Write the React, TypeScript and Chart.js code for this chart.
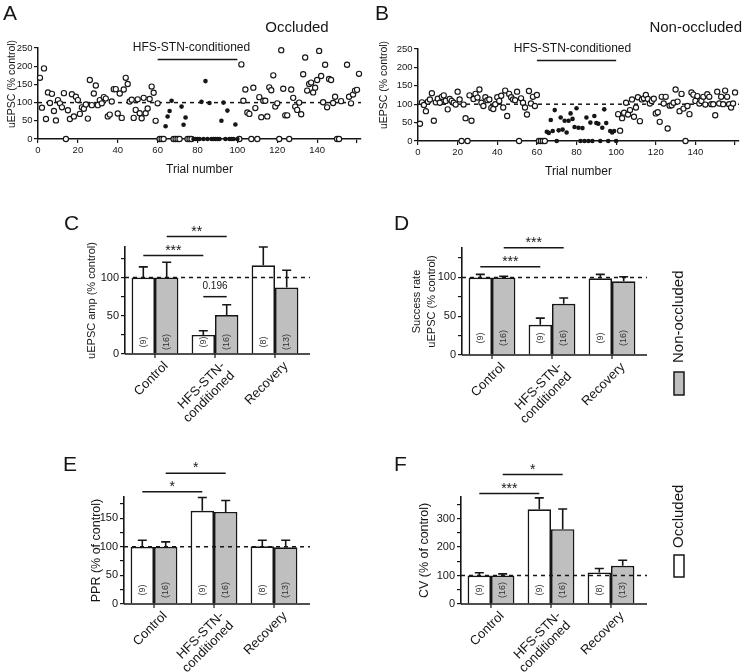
import React, { useEffect, useRef } from 'react';
import { Chart, registerables } from 'chart.js';

Chart.register(...registerables);

const FONT = "'Liberation Sans', Arial, Helvetica, sans-serif";
const INK = '#161616';
const GRAY = '#bfbfbf';

// ---------------- Panel A (Occluded) : [trial, uEPSC % control] ----------------
const occludedOpen: [number, number][] = [
  [1, 168], [2, 86], [3, 194], [4, 55], [5, 128], [6, 99], [7, 124], [8, 77], [9, 51], [10, 107],
  [11, 98], [12, 87], [13, 126], [14, 0], [15, 79], [16, 55], [17, 123], [18, 62], [19, 116], [20, 107],
  [21, 69], [22, 87], [23, 83], [24, 95], [25, 56], [26, 162], [27, 93], [28, 125], [29, 147], [30, 93],
  [31, 107], [32, 98], [33, 115], [34, 111], [35, 62], [36, 67], [37, 103], [38, 137], [39, 137], [40, 70],
  [41, 125], [42, 58], [43, 136], [44, 168], [45, 151], [46, 103], [47, 108], [48, 58], [49, 80], [50, 109],
  [51, 71], [52, 57], [53, 113], [54, 71], [55, 84], [56, 110], [57, 144], [58, 127], [59, 50], [60, 98],
  [61, 0], [62, 0], [63, 0], [68, 0], [69, 0], [70, 0], [71, 0], [75, 0], [76, 0], [77, 0],
  [101, 0], [102, 205], [103, 105], [104, 136], [105, 73], [106, 69], [107, 0], [108, 141], [109, 85], [110, 0],
  [111, 115], [112, 60], [113, 105], [114, 105], [115, 62], [116, 142], [117, 134], [118, 175], [119, 89], [120, 98],
  [121, 0], [122, 244], [123, 138], [124, 65], [125, 65], [126, 0], [127, 136], [128, 113], [129, 89], [130, 80],
  [131, 100], [132, 68], [133, 178], [134, 224], [135, 133], [136, 151], [137, 155], [138, 128], [139, 141], [140, 162],
  [141, 242], [142, 173], [143, 101], [144, 204], [145, 87], [146, 165], [147, 162], [148, 99], [149, 116], [150, 0],
  [151, 0], [152, 104], [154, 266], [155, 204], [156, 116], [157, 98], [158, 122], [159, 133], [160, 135], [161, 179],
];
const occludedFilled: [number, number][] = [
  [64, 35], [65, 62], [66, 77], [67, 105], [72, 89], [73, 39], [74, 59], [82, 102], [84, 159], [86, 99],
  [92, 50], [93, 100], [95, 78], [99, 40],
  [78, 0], [79, 0], [80, 0], [81, 0], [83, 0], [85, 0], [87, 0], [88, 0], [89, 0], [90, 0],
  [91, 0], [94, 0], [96, 0], [97, 0], [98, 0], [100, 0],
];

// ---------------- Panel B (Non-occluded) ----------------
const nonOccludedOpen: [number, number][] = [
  [1, 47], [2, 105], [3, 98], [4, 81], [5, 107], [6, 113], [7, 130], [8, 55], [9, 105], [10, 115],
  [11, 104], [12, 120], [13, 124], [14, 109], [15, 86], [16, 114], [17, 109], [18, 104], [19, 99], [20, 134],
  [21, 113], [22, 0], [23, 99], [24, 62], [25, 0], [26, 124], [27, 55], [28, 114], [29, 128], [30, 118],
  [31, 140], [32, 104], [33, 95], [34, 119], [35, 111], [36, 113], [37, 90], [38, 87], [39, 100], [40, 119],
  [41, 109], [42, 123], [43, 91], [44, 137], [45, 68], [46, 128], [47, 119], [48, 113], [49, 111], [50, 134],
  [51, 0], [52, 116], [53, 104], [54, 91], [55, 72], [56, 136], [57, 102], [58, 120], [59, 95], [60, 125],
  [61, 0], [62, 0], [63, 0], [64, 0],
  [101, 73], [102, 28], [103, 62], [104, 77], [105, 104], [106, 72], [107, 84], [108, 113], [109, 66], [110, 91],
  [111, 119], [112, 54], [113, 113], [114, 116], [115, 125], [116, 114], [117, 102], [118, 109], [119, 115], [120, 75],
  [121, 78], [122, 52], [123, 120], [124, 102], [125, 120], [126, 34], [127, 96], [128, 97], [129, 104], [130, 140],
  [131, 107], [132, 81], [133, 128], [134, 88], [135, 0], [136, 95], [137, 73], [138, 132], [139, 126], [140, 109],
  [141, 122], [142, 102], [143, 109], [144, 120], [145, 99], [146, 127], [147, 120], [148, 100], [149, 100], [150, 70],
  [151, 134], [152, 102], [153, 120], [154, 100], [155, 137], [156, 120], [157, 100], [158, 91], [159, 102], [160, 132],
];
const nonOccludedFilled: [number, number][] = [
  [65, 25], [66, 22], [67, 57], [68, 27], [69, 84], [71, 29], [72, 64], [73, 31], [74, 55], [75, 23],
  [76, 55], [77, 75], [78, 60], [79, 38], [80, 89], [81, 36], [83, 35], [85, 64], [87, 50], [89, 68],
  [90, 49], [91, 47], [93, 36], [94, 86], [95, 49], [97, 27], [98, 23], [99, 27],
  [70, 0], [82, 0], [84, 0], [86, 0], [88, 0], [92, 0], [96, 0], [100, 0],
];

const trialMax = 162;
const hfsStart = 60;
const hfsEnd = 100;

// ---------------- Bar panels C–F ----------------
const groupLabels = [['Control'], ['HFS-STN-', 'conditioned'], ['Recovery']];

// C: uEPSC amplitude
const ampOcc = [100, 25, 116];
const ampOccSem = [14, 5.5, 24];
const ampNon = [100, 51, 87];
const ampNonSem = [20, 13.5, 22.5];
const ampNOcc = ['(9)', '(9)', '(8)'];
const ampNNon = ['(16)', '(16)', '(13)'];

// D: success rate
const succOcc = [100, 39, 99];
const succOccSem = [4, 8.5, 5];
const succNon = [100, 66, 95];
const succNonSem = [1.5, 7.5, 6];
const succNOcc = ['(9)', '(9)', '(9)'];
const succNNon = ['(16)', '(16)', '(16)'];

// E: PPR
const pprOcc = [100, 163, 101];
const pprOccSem = [11.5, 23, 10.5];
const pprNon = [100, 161, 99];
const pprNonSem = [8.5, 20, 12.5];
const pprNOcc = ['(9)', '(9)', '(8)'];
const pprNNon = ['(16)', '(16)', '(13)'];

// F: CV
const cvOcc = [100, 333, 111];
const cvOccSem = [9.6, 40, 14];
const cvNon = [100, 263, 134];
const cvNonSem = [6, 71, 20];
const cvNOcc = ['(9)', '(9)', '(8)'];
const cvNNon = ['(16)', '(16)', '(13)'];

type Rect = { x: number; y: number; w: number; h: number };
type Area = { left: number; right: number; top: number; bottom: number };

type Bracket = { from: [number, number]; to: [number, number]; at: number; text: string; size: number; gap: number };

type ScatterPanel = {
  rect: Rect; area: Area; xAxisH: number;
  open: [number, number][]; filled: [number, number][];
  title: string; titleX: number; titleAlign: CanvasTextAlign;
  yTitleX: number; yTitleY: number; hfsTextDx: number;
};

type BarPanel = {
  rect: Rect; area: Area; yPadLeft: number; axisEnd: number;
  yMax: number; step: number; labelStep: number;
  yTitle: string | string[]; yTitleSize: number; yTitleLH: number;
  occ: number[]; occSem: number[]; non: number[]; nonSem: number[];
  nOcc: string[]; nNon: string[]; nOffset: number;
  brackets: Bracket[];
  legend?: { text: string; fill: string; box: [number, number, number, number]; textBottom: number; textX: number };
};

function buildScatter(canvas: HTMLCanvasElement, p: ScatterPanel) {
  const { rect, area } = p;
  const deco = {
    id: 'scatterDeco',
    beforeDatasetsDraw(chart: any) {
      const { ctx, chartArea, scales } = chart;
      const y100 = scales.y.getPixelForValue(100);
      ctx.save();
      ctx.setLineDash([4, 4]);
      ctx.lineWidth = 1.5;
      ctx.strokeStyle = INK;
      ctx.beginPath();
      ctx.moveTo(chartArea.left, y100);
      ctx.lineTo(chartArea.right, y100);
      ctx.stroke();
      ctx.restore();
    },
    afterDraw(chart: any) {
      const { ctx, chartArea, scales } = chart;
      const x1 = scales.x.getPixelForValue(hfsStart);
      const x2 = scales.x.getPixelForValue(hfsEnd);
      ctx.save();
      ctx.strokeStyle = INK;
      ctx.lineWidth = 1.5;
      ctx.beginPath();
      ctx.moveTo(x1, chartArea.top + 11.5);
      ctx.lineTo(x2, chartArea.top + 11.5);
      ctx.stroke();
      ctx.fillStyle = INK;
      ctx.font = `12px ${FONT}`;
      ctx.textAlign = 'center';
      ctx.textBaseline = 'middle';
      ctx.fillText('HFS-STN-conditioned', (x1 + x2) / 2 + p.hfsTextDx, chartArea.top - 0.5);
      ctx.font = `15px ${FONT}`;
      ctx.textAlign = p.titleAlign;
      ctx.fillText(p.title, p.titleX - rect.x, 28 - rect.y);
      // y axis title
      ctx.save();
      ctx.translate(p.yTitleX - rect.x, p.yTitleY - rect.y);
      ctx.rotate(-Math.PI / 2);
      ctx.font = `10.5px ${FONT}`;
      ctx.textAlign = 'center';
      ctx.textBaseline = 'middle';
      ctx.fillText('uEPSC (% control)', 0, 0);
      ctx.restore();
      ctx.restore();
    },
  };
  const yWidth = area.left - rect.x;
  const xPadBottom = rect.y + rect.h - area.bottom - p.xAxisH;
  const tickFont = { family: FONT, size: 9.5 };
  return new Chart(canvas, {
    type: 'scatter',
    data: {
      datasets: [
        {
          data: p.filled.map(([x, y]) => ({ x, y })),
          pointRadius: 2.3,
          pointBackgroundColor: INK,
          pointBorderWidth: 0,
          pointBorderColor: INK,
          clip: false as any,
        },
        {
          data: p.open.map(([x, y]) => ({ x, y })),
          pointRadius: 2.6,
          pointBackgroundColor: '#ffffff',
          pointBorderColor: INK,
          pointBorderWidth: 1.15,
          clip: false as any,
        },
      ],
    },
    options: {
      animation: false,
      responsive: false,
      devicePixelRatio: 1,
      layout: {
        padding: {
          left: 0,
          top: area.top - rect.y,
          right: rect.x + rect.w - area.right,
          bottom: xPadBottom,
        },
      },
      plugins: { legend: { display: false }, tooltip: { enabled: false } },
      scales: {
        x: {
          type: 'linear',
          min: 0,
          max: trialMax,
          grid: { display: true, drawOnChartArea: false, drawTicks: true, tickLength: 4, color: INK, lineWidth: 1.2 },
          border: { display: true, color: INK, width: 1.5 },
          ticks: {
            stepSize: 20,
            includeBounds: false,
            font: tickFont,
            color: INK,
            padding: 2,
            maxRotation: 0,
            callback: (v: any) => (Number(v) >= 160 ? '' : String(v)),
          },
          title: { display: true, text: 'Trial number', font: { family: FONT, size: 12 }, color: INK, padding: { top: 4, bottom: 4 } },
          afterFit: (s: any) => { s.height = p.xAxisH; },
        },
        y: {
          min: 0,
          max: 250,
          grid: { display: true, drawOnChartArea: false, drawTicks: true, tickLength: 4, color: INK, lineWidth: 1.2 },
          border: { display: true, color: INK, width: 1.5 },
          ticks: { stepSize: 50, font: tickFont, color: INK, padding: 1.5 },
          afterFit: (s: any) => { s.width = yWidth; },
        },
      },
    } as any,
    plugins: [deco],
  });
}

function buildBars(canvas: HTMLCanvasElement, p: BarPanel) {
  const { rect, area } = p;
  const deco = {
    id: 'barDeco',
    afterDatasetsDraw(chart: any) {
      const { ctx, chartArea, scales } = chart;
      const ys = scales.y;
      const xs = scales.x;
      const axisEnd = p.axisEnd - rect.x;
      ctx.save();
      ctx.strokeStyle = INK;
      ctx.fillStyle = INK;
      ctx.lineWidth = 1.6;
      // x axis line and ticks
      ctx.beginPath();
      ctx.moveTo(chartArea.left, chartArea.bottom);
      ctx.lineTo(axisEnd, chartArea.bottom);
      ctx.stroke();
      ctx.lineWidth = 1.2;
      for (let i = 0; i < groupLabels.length; i++) {
        const x = xs.getPixelForValue(i);
        ctx.beginPath();
        ctx.moveTo(x, chartArea.bottom);
        ctx.lineTo(x, chartArea.bottom + 4);
        ctx.stroke();
      }
      // error bars
      ctx.lineWidth = 1.6;
      const sets = [
        { vals: p.occ, sem: p.occSem, n: p.nOcc },
        { vals: p.non, sem: p.nonSem, n: p.nNon },
      ];
      sets.forEach((s, di) => {
        const meta = chart.getDatasetMeta(di);
        meta.data.forEach((el: any, i: number) => {
          const yTop = ys.getPixelForValue(s.vals[i] + s.sem[i]);
          ctx.beginPath();
          ctx.moveTo(el.x, el.y);
          ctx.lineTo(el.x, yTop);
          ctx.moveTo(el.x - 4.5, yTop);
          ctx.lineTo(el.x + 4.5, yTop);
          ctx.stroke();
          // n labels
          ctx.save();
          ctx.translate(el.x, chartArea.bottom - p.nOffset);
          ctx.rotate(-Math.PI / 2);
          ctx.font = `9px ${FONT}`;
          ctx.fillStyle = '#333';
          ctx.textAlign = 'center';
          ctx.textBaseline = 'middle';
          ctx.fillText(s.n[i], 0, 0);
          ctx.restore();
        });
      });
      // dashed 100 line
      const y100 = ys.getPixelForValue(100);
      ctx.save();
      ctx.setLineDash([4, 4]);
      ctx.lineWidth = 1.5;
      ctx.beginPath();
      ctx.moveTo(chartArea.left, y100);
      ctx.lineTo(axisEnd, y100);
      ctx.stroke();
      ctx.restore();
      // brackets
      p.brackets.forEach((b) => {
        const e1 = chart.getDatasetMeta(b.from[0]).data[b.from[1]];
        const e2 = chart.getDatasetMeta(b.to[0]).data[b.to[1]];
        const y = ys.getPixelForValue(b.at);
        ctx.lineWidth = 1.5;
        ctx.beginPath();
        ctx.moveTo(e1.x, y);
        ctx.lineTo(e2.x, y);
        ctx.stroke();
        ctx.font = `${b.size}px ${FONT}`;
        ctx.textAlign = 'center';
        ctx.textBaseline = 'alphabetic';
        ctx.fillText(b.text, (e1.x + e2.x) / 2, y - b.gap);
      });
      // category labels (rotated 45°)
      ctx.font = `13px ${FONT}`;
      ctx.textBaseline = 'middle';
      ctx.textAlign = 'right';
      const lh = 13.5;
      groupLabels.forEach((lines, i) => {
        const x = xs.getPixelForValue(i);
        const dx = lines.length > 1 ? 8 : 11;
        ctx.save();
        ctx.translate(x + dx, chartArea.bottom + 10);
        ctx.rotate(-Math.PI / 4);
        lines.forEach((l, j) => {
          ctx.fillText(l, 0, j * lh);
        });
        ctx.restore();
      });
      // legend
      if (p.legend) {
        const L = p.legend;
        ctx.fillStyle = L.fill;
        ctx.fillRect(L.box[0] - rect.x, L.box[1] - rect.y, L.box[2], L.box[3]);
        ctx.lineWidth = 1.5;
        ctx.strokeRect(L.box[0] - rect.x, L.box[1] - rect.y, L.box[2], L.box[3]);
        ctx.save();
        ctx.translate(L.textX - rect.x, L.textBottom - rect.y);
        ctx.rotate(-Math.PI / 2);
        ctx.fillStyle = INK;
        ctx.font = `15px ${FONT}`;
        ctx.textAlign = 'left';
        ctx.textBaseline = 'middle';
        ctx.fillText(L.text, 0, 0);
        ctx.restore();
      }
      ctx.restore();
    },
  };
  const yWidth = area.left - rect.x - p.yPadLeft;
  const xH = rect.y + rect.h - area.bottom;
  return new Chart(canvas, {
    type: 'bar',
    data: {
      labels: groupLabels.map((l) => l.join(' ')),
      datasets: [
        { data: p.occ, backgroundColor: '#ffffff', borderColor: INK, borderWidth: 1.7, categoryPercentage: 0.78, barPercentage: 1 },
        { data: p.non, backgroundColor: GRAY, borderColor: INK, borderWidth: 1.7, categoryPercentage: 0.78, barPercentage: 1 },
      ],
    },
    options: {
      animation: false,
      responsive: false,
      devicePixelRatio: 1,
      layout: {
        padding: {
          left: p.yPadLeft,
          top: area.top - rect.y,
          right: rect.x + rect.w - area.right,
          bottom: 0,
        },
      },
      plugins: { legend: { display: false }, tooltip: { enabled: false } },
      scales: {
        x: {
          grid: { display: false },
          border: { display: false },
          ticks: { display: false },
          afterFit: (s: any) => { s.height = xH; },
        },
        y: {
          min: 0,
          max: p.yMax,
          grid: { display: true, drawOnChartArea: false, drawTicks: true, tickLength: 4, color: INK, lineWidth: 1.2 },
          border: { display: true, color: INK, width: 1.6 },
          ticks: {
            stepSize: p.step,
            includeBounds: false,
            autoSkip: false,
            font: { family: FONT, size: 11 },
            color: INK,
            padding: 2,
            callback: (v: any) => (Number(v) % p.labelStep === 0 ? String(v) : ''),
          },
          title: {
            display: true,
            text: p.yTitle,
            font: { family: FONT, size: p.yTitleSize, lineHeight: p.yTitleLH },
            color: INK,
            padding: { top: 4, bottom: 4 },
          },
          afterFit: (s: any) => { s.width = yWidth; },
        },
      },
    } as any,
    plugins: [deco],
  });
}

function ChartCanvas({ rect, build }: { rect: Rect; build: (c: HTMLCanvasElement) => Chart }) {
  const ref = useRef<HTMLCanvasElement>(null);
  useEffect(() => {
    if (!ref.current) return;
    const chart = build(ref.current);
    return () => chart.destroy();
  }, []);
  return (
    <canvas
      ref={ref}
      width={rect.w}
      height={rect.h}
      style={{ position: 'absolute', left: rect.x, top: rect.y, width: rect.w, height: rect.h }}
    />
  );
}

const panelA: ScatterPanel = {
  rect: { x: 0, y: 0, w: 372, h: 210 },
  area: { left: 38, right: 361, top: 48, bottom: 139 },
  xAxisH: 42,
  open: occludedOpen, filled: occludedFilled,
  title: 'Occluded', titleX: 297, titleAlign: 'center',
  yTitleX: 12, yTitleY: 84, hfsTextDx: -6,
};
const panelB: ScatterPanel = {
  rect: { x: 372, y: 0, w: 373, h: 210 },
  area: { left: 418, right: 739, top: 49, bottom: 141 },
  xAxisH: 42,
  open: nonOccludedOpen, filled: nonOccludedFilled,
  title: 'Non-occluded', titleX: 742, titleAlign: 'right',
  yTitleX: 384, yTitleY: 85, hfsTextDx: -4,
};

const panelC: BarPanel = {
  rect: { x: 0, y: 210, w: 372, h: 230 },
  area: { left: 125, right: 305, top: 247, bottom: 354 },
  yPadLeft: 81, axisEnd: 310, yMax: 140, step: 25, labelStep: 50,
  yTitle: 'uEPSC amp (% control)', yTitleSize: 11, yTitleLH: 1.2,
  occ: ampOcc, occSem: ampOccSem, non: ampNon, nonSem: ampNonSem, nOcc: ampNOcc, nNon: ampNNon, nOffset: 12,
  brackets: [
    { from: [0, 0], to: [0, 1], at: 128.8, text: '***', size: 14, gap: 1 },
    { from: [1, 0], to: [1, 1], at: 153.7, text: '**', size: 14, gap: 1 },
    { from: [0, 1], to: [1, 1], at: 75, text: '0.196', size: 10, gap: 8 },
  ],
};
const panelD: BarPanel = {
  rect: { x: 372, y: 210, w: 373, h: 230 },
  area: { left: 462, right: 642, top: 248, bottom: 355 },
  yPadLeft: 34, axisEnd: 647, yMax: 138, step: 25, labelStep: 50,
  yTitle: ['Success rate', 'uEPSC (% control)'], yTitleSize: 11, yTitleLH: 1.35,
  occ: succOcc, occSem: succOccSem, non: succNon, nonSem: succNonSem, nOcc: succNOcc, nNon: succNNon, nOffset: 17,
  brackets: [
    { from: [0, 0], to: [0, 1], at: 113.8, text: '***', size: 14, gap: 1 },
    { from: [1, 0], to: [1, 1], at: 138.4, text: '***', size: 14, gap: 1 },
  ],
  legend: { text: 'Non-occluded', fill: GRAY, box: [674, 372, 10, 23], textBottom: 363, textX: 679 },
};
const panelE: BarPanel = {
  rect: { x: 0, y: 440, w: 372, h: 232 },
  area: { left: 124, right: 304, top: 497, bottom: 604 },
  yPadLeft: 85.5, axisEnd: 310, yMax: 187, step: 25, labelStep: 50,
  yTitle: 'PPR (% of control)', yTitleSize: 12.5, yTitleLH: 1.2,
  occ: pprOcc, occSem: pprOccSem, non: pprNon, nonSem: pprNonSem, nOcc: pprNOcc, nNon: pprNNon, nOffset: 14,
  brackets: [
    { from: [0, 0], to: [0, 1], at: 196, text: '*', size: 14, gap: 1 },
    { from: [1, 0], to: [1, 1], at: 228.6, text: '*', size: 14, gap: 1 },
  ],
};
const panelF: BarPanel = {
  rect: { x: 372, y: 440, w: 373, h: 232 },
  area: { left: 461, right: 641, top: 497, bottom: 604 },
  yPadLeft: 41.5, axisEnd: 647, yMax: 376, step: 50, labelStep: 100,
  yTitle: 'CV (% of control)', yTitleSize: 12.5, yTitleLH: 1.2,
  occ: cvOcc, occSem: cvOccSem, non: cvNon, nonSem: cvNonSem, nOcc: cvNOcc, nNon: cvNNon, nOffset: 14,
  brackets: [
    { from: [0, 0], to: [0, 1], at: 388, text: '***', size: 14, gap: 1 },
    { from: [1, 0], to: [1, 1], at: 455, text: '*', size: 14, gap: 1 },
  ],
  legend: { text: 'Occluded', fill: '#ffffff', box: [674, 555, 10, 22], textBottom: 548, textX: 679 },
};

const letters: { t: string; x: number; y: number }[] = [
  { t: 'A', x: 3, y: 2 },
  { t: 'B', x: 375, y: 2 },
  { t: 'C', x: 64, y: 212 },
  { t: 'D', x: 394, y: 212 },
  { t: 'E', x: 63, y: 453 },
  { t: 'F', x: 394, y: 453 },
];

export default function App() {
  return (
    <div style={{ position: 'absolute', left: 0, top: 0, width: 745, height: 672, background: '#fff', overflow: 'hidden' }}>
      <ChartCanvas rect={panelA.rect} build={(c) => buildScatter(c, panelA)} />
      <ChartCanvas rect={panelB.rect} build={(c) => buildScatter(c, panelB)} />
      <ChartCanvas rect={panelC.rect} build={(c) => buildBars(c, panelC)} />
      <ChartCanvas rect={panelD.rect} build={(c) => buildBars(c, panelD)} />
      <ChartCanvas rect={panelE.rect} build={(c) => buildBars(c, panelE)} />
      <ChartCanvas rect={panelF.rect} build={(c) => buildBars(c, panelF)} />
      {letters.map((l) => (
        <div
          key={l.t}
          style={{
            position: 'absolute', left: l.x, top: l.y, fontFamily: FONT, fontSize: 21,
            lineHeight: 1, color: INK,
          }}
        >
          {l.t}
        </div>
      ))}
    </div>
  );
}
